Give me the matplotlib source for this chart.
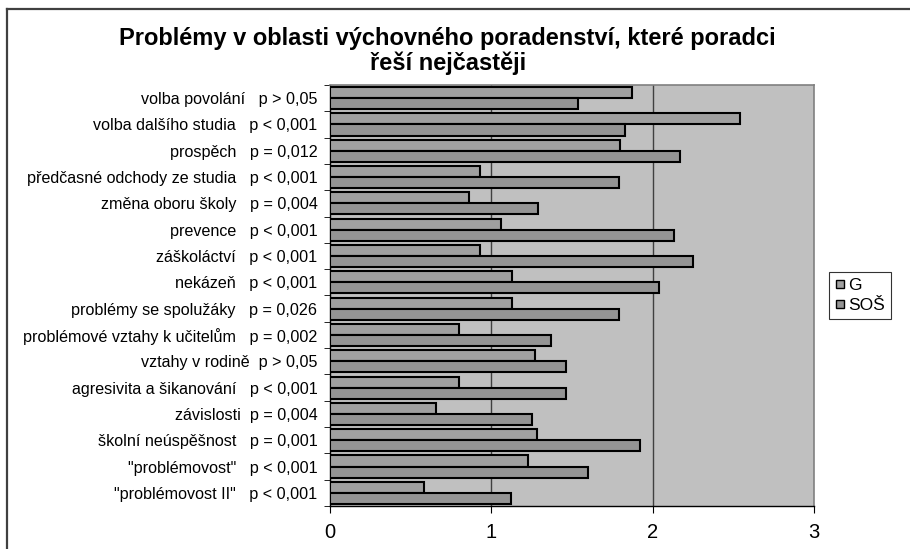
import numpy as np
import matplotlib
matplotlib.use('Agg')
import matplotlib.pyplot as plt
from matplotlib.lines import Line2D

plt.rcParams['font.family'] = ['Liberation Sans', 'DejaVu Sans']

# data
categories = ['volba povolání   p > 0,05', 'volba dalšího studia   p < 0,001',
              'prospěch   p = 0,012', 'předčasné odchody ze studia   p < 0,001',
              'změna oboru školy   p = 0,004', 'prevence   p < 0,001',
              'záškoláctví   p < 0,001', 'nekázeň   p < 0,001',
              'problémy se spolužáky   p = 0,026', 'problémové vztahy k učitelům   p = 0,002',
              'vztahy v rodině  p > 0,05', 'agresivita a šikanování   p < 0,001',
              'závislosti  p = 0,004', 'školní neúspěšnost   p = 0,001',
              '"problémovost"   p < 0,001', '"problémovost II"   p < 0,001']
g_vals = [1.87, 2.54, 1.80, 0.93, 0.86, 1.06, 0.93, 1.13, 1.13, 0.80, 1.27, 0.80, 0.66, 1.28, 1.23, 0.58]
sos_vals = [1.54, 1.83, 2.17, 1.79, 1.29, 2.13, 2.25, 2.04, 1.79, 1.37, 1.46, 1.46, 1.25, 1.92, 1.60, 1.12]
series = ['G', 'SOŠ']
x_ticks = [0, 1, 2, 3]

fig = plt.figure(figsize=(9.1, 5.49), dpi=100)
ax = fig.add_axes([0.3626, 0.0783, 0.532, 0.7669])
ax.set_facecolor('#c0c0c0')

n = len(categories)
y = np.arange(n)[::-1]
h = 0.42
ax.barh(y + h / 2, g_vals, height=h, color='#a0a0a0', edgecolor='black', linewidth=1.5, zorder=3, label=series[0])
ax.barh(y - h / 2, sos_vals, height=h, color='#949494', edgecolor='black', linewidth=1.5, zorder=3, label=series[1])

for v in x_ticks[1:-1]:
    ax.axvline(v, color='#404040', linewidth=1, zorder=1)

ax.set_xlim(0, 3)
ax.set_ylim(-0.5, n - 0.5)
ax.set_xticks(x_ticks)
ax.set_xticklabels([str(t) for t in x_ticks], fontsize=14.5)
ax.set_yticks(y)
ax.set_yticklabels(categories, fontsize=11.6)
ax.set_yticks(np.arange(n + 1) - 0.5, minor=True)
ax.tick_params(axis='y', which='major', length=0, pad=9)
ax.tick_params(axis='y', which='minor', length=4, direction='out', color='black')
ax.tick_params(axis='x', length=5, direction='out', color='black', pad=7)

for s in ['top', 'right']:
    ax.spines[s].set_color('#808080')
    ax.spines[s].set_linewidth(1.2)
for s in ['left', 'bottom']:
    ax.spines[s].set_color('black')
    ax.spines[s].set_linewidth(1)

fig.text(0.492, 0.907, 'Problémy v oblasti výchovného poradenství, které poradci\nřeší nejčastěji',
         ha='center', va='center', fontsize=17, fontweight='bold', linespacing=1.1)

handles = [Line2D([], [], marker='s', linestyle='none', markersize=6, markerfacecolor='#a0a0a0',
                  markeredgecolor='black', markeredgewidth=1),
           Line2D([], [], marker='s', linestyle='none', markersize=6, markerfacecolor='#949494',
                  markeredgecolor='black', markeredgewidth=1)]
leg = fig.legend(handles, series, loc='upper left', bbox_to_anchor=(0.911, 0.505), fontsize=12.5,
                 frameon=True, fancybox=False, handlelength=0.6, handletextpad=0.15,
                 borderpad=0.35, labelspacing=0.3, borderaxespad=0)
leg.get_frame().set_edgecolor('black')
leg.get_frame().set_linewidth(0.8)

# outer chart border
fig.add_artist(Line2D([7 / 910, 1], [1 - 9 / 549, 1 - 9 / 549], color='#404040', linewidth=1.6))
fig.add_artist(Line2D([7 / 910, 7 / 910], [0, 1 - 9 / 549], color='#404040', linewidth=1.6))

fig.savefig('out.png', dpi=100)
